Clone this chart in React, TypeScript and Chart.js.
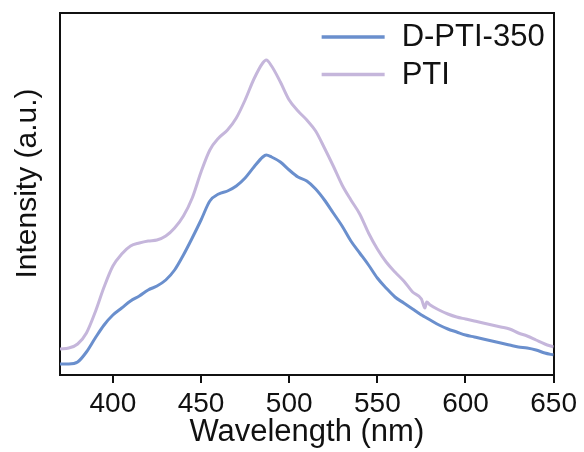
import React, { useEffect, useRef } from "react";
import { Chart, registerables } from "chart.js";

Chart.register(...registerables);

// Wavelength grid (nm)
const wavelengths = [
  370, 375, 380, 385, 390, 395, 400, 405, 410, 415, 420, 425, 430, 435, 440, 445,
  450, 455, 460, 465, 470, 475, 480, 485, 487, 490, 495, 500, 505, 510, 515, 520,
  525, 530, 535, 540, 545, 550, 555, 560, 565, 570, 575, 577, 578, 580, 585, 590,
  595, 600, 605, 610, 615, 620, 625, 630, 635, 640, 645, 650,
];

// Intensity (a.u.) of D-PTI-350
const dPti350 = [
  11, 11, 13, 23, 37, 50, 60, 67, 74, 79, 85, 89, 95, 105, 120, 137,
  155, 174, 181, 184, 189, 197, 208, 218, 220, 218, 213, 205, 198, 194, 186, 175,
  162, 149, 134, 122, 110, 97, 87, 78, 72, 66, 60, 58, 57, 55, 50, 46,
  43, 40, 38, 36, 34, 32, 30, 28, 27, 25, 22, 20,
];

// Intensity (a.u.) of PTI
const pti = [
  26, 27, 31, 42, 63, 88, 109, 121, 129, 132, 134, 135, 139, 147, 159, 177,
  203, 225, 237, 245, 257, 275, 296, 312, 315, 309, 293, 275, 264, 255, 244, 227,
  209, 190, 175, 161, 142, 126, 113, 103, 94, 83, 76, 67, 73, 70, 65, 61,
  58, 56, 54, 52, 50, 48, 46, 42, 39, 35, 31, 28,
];

const xTickValues = [400, 450, 500, 550, 600, 650];
const seriesNames = ["D-PTI-350", "PTI"];
const seriesColors = ["#6a8fcd", "#c5b6db"];
const xTitle = "Wavelength (nm)";
const yTitle = "Intensity (a.u.)";

const FONT = 'Arial, "Liberation Sans", Helvetica, sans-serif';
const INK = "#111111";

const overlayPlugin = {
  id: "overlay",
  afterDraw(chart: any) {
    const { ctx, chartArea } = chart;
    ctx.save();
    // y-axis title
    ctx.save();
    ctx.translate(chartArea.left - 32.5, chartArea.top + 170.5);
    ctx.rotate(-Math.PI / 2);
    ctx.font = `30px ${FONT}`;
    ctx.fillStyle = INK;
    ctx.textAlign = "center";
    ctx.textBaseline = "middle";
    ctx.fillText(yTitle, 0, 0);
    ctx.restore();

    // legend
    const ys = [chartArea.top + 24, chartArea.top + 61.5];
    chart.data.datasets.forEach((ds: any, i: number) => {
      const y = ys[i];
      ctx.beginPath();
      ctx.strokeStyle = ds.borderColor;
      ctx.lineWidth = 3.5;
      ctx.moveTo(chartArea.right - 232, y);
      ctx.lineTo(chartArea.right - 169, y);
      ctx.stroke();
      ctx.font = `31px ${FONT}`;
      ctx.fillStyle = INK;
      ctx.textAlign = "left";
      ctx.textBaseline = "middle";
      ctx.fillText(ds.label, chartArea.right - 152, y + 0.5);
    });
    ctx.restore();
  },
};

const hiddenAxis = (position: string) => ({
  type: "linear",
  position,
  min: 0,
  max: 1,
  ticks: { display: false },
  grid: { display: false, drawTicks: false, tickLength: 0 },
  border: { display: true, color: INK, width: 2 },
});

export default function App() {
  const canvasRef = useRef<HTMLCanvasElement | null>(null);

  useEffect(() => {
    if (!canvasRef.current) return;
    const series = [dPti350, pti];
    const chart = new Chart(canvasRef.current, {
      type: "line",
      data: {
        datasets: series.map((vals, i) => ({
          label: seriesNames[i],
          data: wavelengths.map((w, j) => ({ x: w, y: vals[j] })),
          borderColor: seriesColors[i],
          backgroundColor: seriesColors[i],
          borderWidth: 3,
          pointRadius: 0,
          cubicInterpolationMode: "monotone" as const,
          fill: false,
        })),
      },
      options: {
        responsive: false,
        animation: false,
        devicePixelRatio: 1,
        layout: { padding: { left: 60, right: 30, top: 13, bottom: 0 } },
        plugins: {
          legend: { display: false },
          tooltip: { enabled: false },
        },
        scales: {
          x: {
            type: "linear",
            position: "bottom",
            min: 370,
            max: 650,
            afterBuildTicks: (scale: any) => {
              scale.ticks = xTickValues.map((v) => ({ value: v }));
            },
            ticks: {
              font: { family: FONT, size: 28, lineHeight: 1 },
              color: INK,
              padding: 7,
              maxRotation: 0,
              autoSkip: false,
            },
            grid: {
              display: true,
              drawOnChartArea: false,
              drawTicks: true,
              tickLength: 8,
              color: INK,
              lineWidth: 2,
            },
            border: { display: true, color: INK, width: 2 },
            title: {
              display: true,
              text: xTitle,
              font: { family: FONT, size: 31, lineHeight: "15px" },
              color: INK,
              padding: { top: 0, bottom: 12 },
            },
          },
          y: { ...hiddenAxis("left"), min: 0, max: 362 },
          x2: hiddenAxis("top"),
          y2: hiddenAxis("right"),
        },
      } as any,
      plugins: [overlayPlugin],
    });
    return () => chart.destroy();
  }, []);

  return (
    <div style={{ position: "absolute", left: 0, top: 0, width: 584, height: 452, background: "#fff" }}>
      <canvas ref={canvasRef} width={584} height={452} style={{ display: "block", width: 584, height: 452 }} />
    </div>
  );
}
